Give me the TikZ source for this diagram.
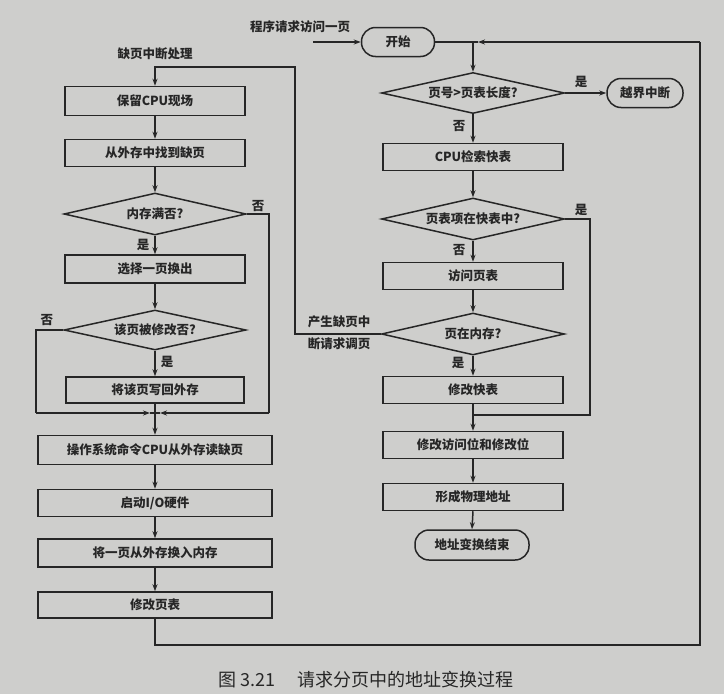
\documentclass[tikz,border=0pt]{standalone}
\usepackage{fontspec}
\newfontfamily\cjk{Noto Sans CJK SC}
\usetikzlibrary{shapes.geometric,arrows.meta}
\definecolor{paper}{RGB}{206,206,204}
\definecolor{ink}{RGB}{38,38,38}
\begin{document}
\begin{tikzpicture}[x=1pt,y=-1pt,
  every node/.style={font=\cjk\bfseries\fontsize{12.5}{14}\selectfont, text=ink},
  line/.style={draw=ink, line width=1.5pt},
  arr/.style={line, -{Stealth[length=7pt,width=5pt]}},
  procbox/.style={draw=ink, line width=1.5pt, rectangle, inner sep=0pt, minimum height=27pt},
  narrowbox/.style={procbox, minimum width=180pt},
  widebox/.style={procbox, minimum width=234pt},
  rightbox/.style={procbox, minimum width=180pt},
  decide/.style={draw=ink, line width=1.5pt, diamond, aspect=4.3, inner sep=0pt, minimum width=183pt, minimum height=41pt},
  term/.style={draw=ink, line width=1.5pt, rectangle, rounded corners=14pt, inner sep=0pt, minimum height=29pt},
  lab/.style={inner sep=0pt}
]
\fill[paper] (0,0) rectangle (724,694);
\useasboundingbox (0,0) rectangle (724,694);

% right column
\node[term, minimum width=73pt] (start) at (398,42) {开始};
\node[lab] (reqlab) at (300,27) {程序请求访问一页};
\coordinate (reqin) at (313,42);
\node[decide] (rd1) at (473,93) {页号>页表长度?};
\node[term, minimum width=76pt] (yj) at (645,93) {越界中断};
\node[rightbox] (rb1) at (473,157) {CPU检索快表};
\node[decide, minimum height=42pt] (rd2) at (473,219) {页表项在快表中?};
\node[rightbox] (rb2) at (473,276) {访问页表};
\node[decide, minimum height=42pt] (rd3) at (473,334) {页在内存?};
\node[rightbox] (rb3) at (473,390) {修改快表};
\node[rightbox] (rb4) at (473,445) {修改访问位和修改位};
\node[rightbox] (rb5) at (473,497) {形成物理地址};
\node[term, minimum width=114pt, minimum height=30pt] (end) at (472,545) {地址变换结束};

% left column
\node[lab] (qylab) at (155,54) {缺页中断处理};
\node[narrowbox, minimum height=29pt] (lb1) at (155,101) {保留CPU现场};
\node[narrowbox] (lb2) at (155,153) {从外存中找到缺页};
\node[decide, minimum width=182pt, minimum height=42pt] (ld1) at (155,214) {内存满否?};
\node[narrowbox, minimum height=28pt] (lb3) at (155,269) {选择一页换出};
\node[decide, minimum width=182pt, minimum height=40pt] (ld2) at (155,330) {该页被修改否?};
\node[narrowbox, minimum width=178pt, minimum height=26pt] (lb4) at (155,390) {将该页写回外存};
\node[widebox, minimum height=29pt] (lb5) at (155,450) {操作系统命令CPU从外存读缺页};
\node[widebox] (lb6) at (155,503) {启动I/O硬件};
\node[widebox, minimum height=28pt] (lb7) at (155,553) {将一页从外存换入内存};
\node[widebox, minimum height=26pt] (lb8) at (155,605) {修改页表};

% labels
\node[lab] (y1) at (581,82) {是};
\node[lab] (n1) at (459,126) {否};
\node[lab] (y2) at (581,210) {是};
\node[lab] (n2) at (459,250) {否};
\node[lab] (y3) at (458,363) {是};
\node[lab] (pf1) at (339,322) {产生缺页中};
\node[lab] (pf2) at (339,344) {断请求调页};
\node[lab] (n3) at (258,206) {否};
\node[lab] (y4) at (143,245) {是};
\node[lab] (n4) at (47,320) {否};
\node[lab] (y5) at (167,362) {是};
\node[lab, font=\cjk\fontsize{18}{20}\selectfont] (cap) at (366,680) {图 3.21\hspace{1.2em}请求分页中的地址变换过程};

% junction coordinates
\coordinate (J) at (473,42);
\coordinate (JR) at (700,42);
\coordinate (K) at (155,413);
\coordinate (KL) at (36,413);
\coordinate (KR) at (269,413);
\coordinate (M) at (473,415);

% right connectors
\draw[arr] (reqin) -- (start.west);
\draw[line] (start.east) -- (J);
\draw[arr] (J) -- (rd1.north);
\draw[line] (lb8.south) -- (155,645) -- (700,645) -- (JR);
\draw[arr] (JR) -- (478,42);
\draw[line] (478,42) -- (J);
\draw[arr] (rd1.east) -- (yj.west);
\draw[arr] (rd1.south) -- (rb1.north);
\draw[arr] (rb1.south) -- (rd2.north);
\draw[line] (rd2.east) -- (590,219) -- (590,415) -- (M);
\draw[arr] (rd2.south) -- (rb2.north);
\draw[arr] (rb2.south) -- (rd3.north);
\draw[arr] (rd3.south) -- (rb3.north);
\draw[arr] (rb3.south) -- (rb4.north);
\draw[arr] (rb4.south) -- (rb5.north);
\draw[arr] (rb5.south) -- (end.north);
\draw[arr] (rd3.west) -- (295,334) -- (295,67) -- (155,67) -- (lb1.north);

% left connectors
\draw[arr] (lb1.south) -- (lb2.north);
\draw[arr] (lb2.south) -- (ld1.north);
\draw[arr] (ld1.south) -- (lb3.north);
\draw[arr] (lb3.south) -- (ld2.north);
\draw[arr] (ld2.south) -- (lb4.north);
\draw[line] (ld1.east) -- (269,214) -- (KR);
\draw[line] (ld2.west) -- (36,330) -- (KL);
\draw[arr] (KL) -- (150,413);
\draw[line] (150,413) -- (K);
\draw[arr] (KR) -- (160,413);
\draw[line] (160,413) -- (K);
\draw[line] (lb4.south) -- (K);
\draw[arr] (K) -- (lb5.north);
\draw[arr] (lb5.south) -- (lb6.north);
\draw[arr] (lb6.south) -- (lb7.north);
\draw[arr] (lb7.south) -- (lb8.north);
\end{tikzpicture}
\end{document}
